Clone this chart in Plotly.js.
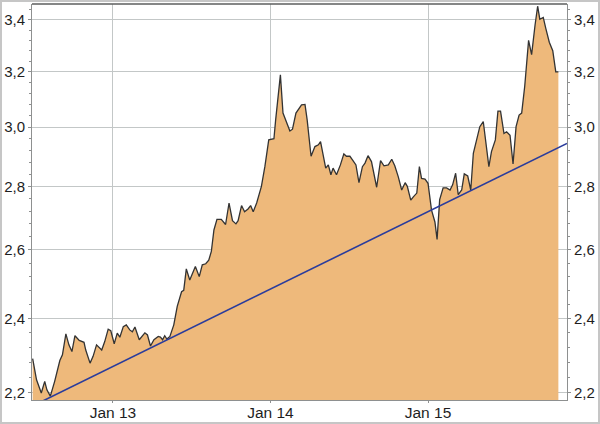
<!DOCTYPE html>
<html>
<head>
<meta charset="utf-8">
<script src="https://cdn.plot.ly/plotly-3.0.1.min.js"></script>
<style>
html,body{margin:0;padding:0;background:#fff;}
#chart{position:absolute;left:0;top:0;width:600px;height:424px;}
#frame{position:absolute;left:0;top:0;width:600px;height:424px;box-sizing:border-box;border:2px solid #c6c6c6;pointer-events:none;}
</style>
</head>
<body>
<div id="chart"></div>
<div id="frame"></div>
<script>
var dates = [
'2012-06-29','2012-07-08','2012-07-19','2012-07-27','2012-08-01','2012-08-09','2012-08-19','2012-08-31',
'2012-09-06','2012-09-14','2012-09-21','2012-09-28','2012-10-05','2012-10-15','2012-10-26','2012-10-30',
'2012-11-09','2012-11-16','2012-11-24','2012-12-06','2012-12-13','2012-12-21','2012-12-27','2013-01-04',
'2013-01-11','2013-01-17','2013-01-25','2013-02-01','2013-02-09','2013-02-15','2013-02-21','2013-03-03',
'2013-03-16','2013-03-22','2013-03-29','2013-04-06','2013-04-16','2013-04-21','2013-04-26','2013-05-01',
'2013-05-06','2013-05-13','2013-05-22','2013-05-30','2013-06-09','2013-06-14','2013-06-20','2013-06-28',
'2013-07-11','2013-07-20','2013-07-27','2013-08-04','2013-08-11','2013-08-17','2013-08-23','2013-08-30',
'2013-09-09','2013-09-19','2013-09-27','2013-10-05','2013-10-13','2013-10-18','2013-10-26','2013-11-02',
'2013-11-10','2013-11-16','2013-11-22','2013-11-30','2013-12-11','2013-12-19','2013-12-28','2014-01-09',
'2014-01-13','2014-01-24','2014-01-30','2014-02-07','2014-02-15','2014-02-21','2014-03-01','2014-03-14',
'2014-03-22','2014-03-27','2014-04-05','2014-04-14','2014-04-22','2014-04-27','2014-05-03','2014-05-09',
'2014-05-15','2014-05-21','2014-05-26','2014-06-03','2014-06-12','2014-06-20','2014-06-26','2014-07-04',
'2014-07-10','2014-07-18','2014-07-25','2014-08-02','2014-08-08','2014-08-15','2014-08-23','2014-08-29',
'2014-09-04','2014-09-13','2014-09-21','2014-10-01','2014-10-09','2014-10-16','2014-10-24','2014-11-01',
'2014-11-09','2014-11-14','2014-11-22','2014-11-28','2014-12-06','2014-12-12','2014-12-17','2014-12-25',
'2015-01-01','2015-01-09','2015-01-17','2015-01-22','2015-01-28','2015-02-05','2015-02-13','2015-02-21',
'2015-02-27','2015-03-06','2015-03-12','2015-03-20','2015-03-26','2015-04-03','2015-04-10','2015-04-16',
'2015-04-25','2015-05-01','2015-05-09','2015-05-15','2015-05-22','2015-05-28','2015-06-06','2015-06-12',
'2015-06-18','2015-06-26','2015-07-02','2015-07-10','2015-07-17','2015-07-24','2015-07-31','2015-08-06',
'2015-08-13','2015-08-22','2015-08-29','2015-09-06','2015-09-12','2015-09-17','2015-09-25','2015-10-01',
'2015-10-09','2015-10-17','2015-10-24','2015-10-30'
];
var values = [
2.290,2.234,2.200,2.230,2.208,2.192,2.230,2.285,
2.300,2.357,2.327,2.309,2.352,2.339,2.334,2.313,
2.278,2.296,2.327,2.313,2.336,2.370,2.366,2.330,
2.359,2.348,2.377,2.382,2.368,2.363,2.376,2.341,
2.360,2.354,2.324,2.341,2.350,2.348,2.341,2.352,
2.343,2.350,2.382,2.434,2.476,2.480,2.543,2.510,
2.550,2.520,2.555,2.558,2.569,2.595,2.661,2.694,
2.694,2.678,2.746,2.690,2.680,2.690,2.738,2.718,
2.727,2.738,2.718,2.746,2.800,2.865,2.956,2.960,
3.026,3.189,3.050,3.020,2.987,2.993,3.050,3.079,
3.081,3.026,2.900,2.933,2.939,2.950,2.910,2.860,
2.871,2.838,2.860,2.838,2.871,2.908,2.900,2.900,
2.888,2.871,2.812,2.865,2.877,2.902,2.882,2.843,
2.797,2.885,2.868,2.871,2.890,2.868,2.832,2.788,
2.812,2.800,2.755,2.766,2.778,2.865,2.826,2.824,
2.810,2.724,2.686,2.632,2.757,2.795,2.795,2.788,
2.805,2.843,2.773,2.788,2.841,2.834,2.788,2.910,
2.967,3.002,3.020,2.945,2.865,2.916,2.956,3.057,
3.057,2.978,2.984,2.972,2.874,3.002,3.043,3.050,
3.146,3.320,3.265,3.380,3.455,3.403,3.410,3.366,
3.313,3.280,3.200,3.200
];
var trendDates = ['2012-07-01','2015-11-19'];
var trendValues = [2.168, 2.944];
var baseDates = ['2012-06-29','2015-10-30'];
var baseValues = [2.1, 2.1];
var xTickVals = ['2013-01-01','2014-01-01','2015-01-01'];
var xTickText = ['Jan 13','Jan 14','Jan 15'];
var yTickVals = [2.2,2.4,2.6,2.8,3.0,3.2,3.4];
var yTickText = ['2,2','2,4','2,6','2,8','3,0','3,2','3,4'];
var yMinorVals = [2.24,2.28,2.32,2.36,2.44,2.48,2.52,2.56,2.64,2.68,2.72,2.76,2.84,2.88,2.92,2.96,3.04,3.08,3.12,3.16,3.24,3.28,3.32,3.36,3.44];

var yRange = [Math.log10(2.182), Math.log10(3.464)];
var tickFont = {family:'"Liberation Sans", Arial, sans-serif', size:15, color:'#1e1e1e'};
var gridC = '#c3c7c7';
var axisC = '#8e9090';

var traces = [
  {x: baseDates, y: baseValues, type:'scatter', mode:'lines', line:{width:0, color:'rgba(0,0,0,0)'}, hoverinfo:'skip', showlegend:false},
  {x: dates, y: values, type:'scatter', mode:'lines', fill:'tonexty', fillcolor:'#eeb97b', line:{color:'#333333', width:1.3}, showlegend:false},
  {x: trendDates, y: trendValues, type:'scatter', mode:'lines', yaxis:'y2', line:{color:'#2a3c9c', width:1.6}, showlegend:false}
];

var yBase = {
  type:'log', range:yRange, autorange:false,
  tickmode:'array', tickvals:yTickVals, ticktext:yTickText,
  ticks:'outside', ticklen:3, tickcolor:axisC, tickwidth:1,
  minor:{tickmode:'array', tickvals:yMinorVals, ticks:'outside', ticklen:2, tickcolor:axisC, showgrid:false},
  showgrid:true, gridcolor:gridC, gridwidth:1,
  showline:true, linecolor:axisC, linewidth:1,
  tickfont:tickFont, zeroline:false, fixedrange:true
};

var layout = {
  width:600, height:424,
  margin:{l:32, r:33, t:4, b:24, pad:0},
  paper_bgcolor:'#ffffff', plot_bgcolor:'#ffffff',
  separators:', ',
  showlegend:false,
  xaxis:{
    type:'date', range:['2012-06-27 12:00','2015-11-19'], autorange:false,
    tickmode:'array', tickvals:xTickVals, ticktext:xTickText,
    ticks:'outside', ticklen:2, tickcolor:axisC, ticklabelstandoff:-4,
    showgrid:true, gridcolor:gridC, gridwidth:1,
    showline:true, linecolor:axisC, linewidth:1, mirror:false,
    tickfont:{family:'"Liberation Sans", Arial, sans-serif', size:15.5, color:'#1e1e1e'}, zeroline:false
  },
  yaxis: Object.assign({}, yBase, {side:'left'}),
  yaxis2: Object.assign({}, yBase, {side:'right', overlaying:'y', showgrid:false}),
  shapes:[
    {type:'line', xref:'paper', yref:'paper', x0:0, x1:1, y0:1, y1:1, line:{color:'#5c5e5e', width:1.5}, layer:'above'}
  ]
};

Plotly.newPlot('chart', traces, layout, {staticPlot:true, displayModeBar:false});
</script>
</body>
</html>
